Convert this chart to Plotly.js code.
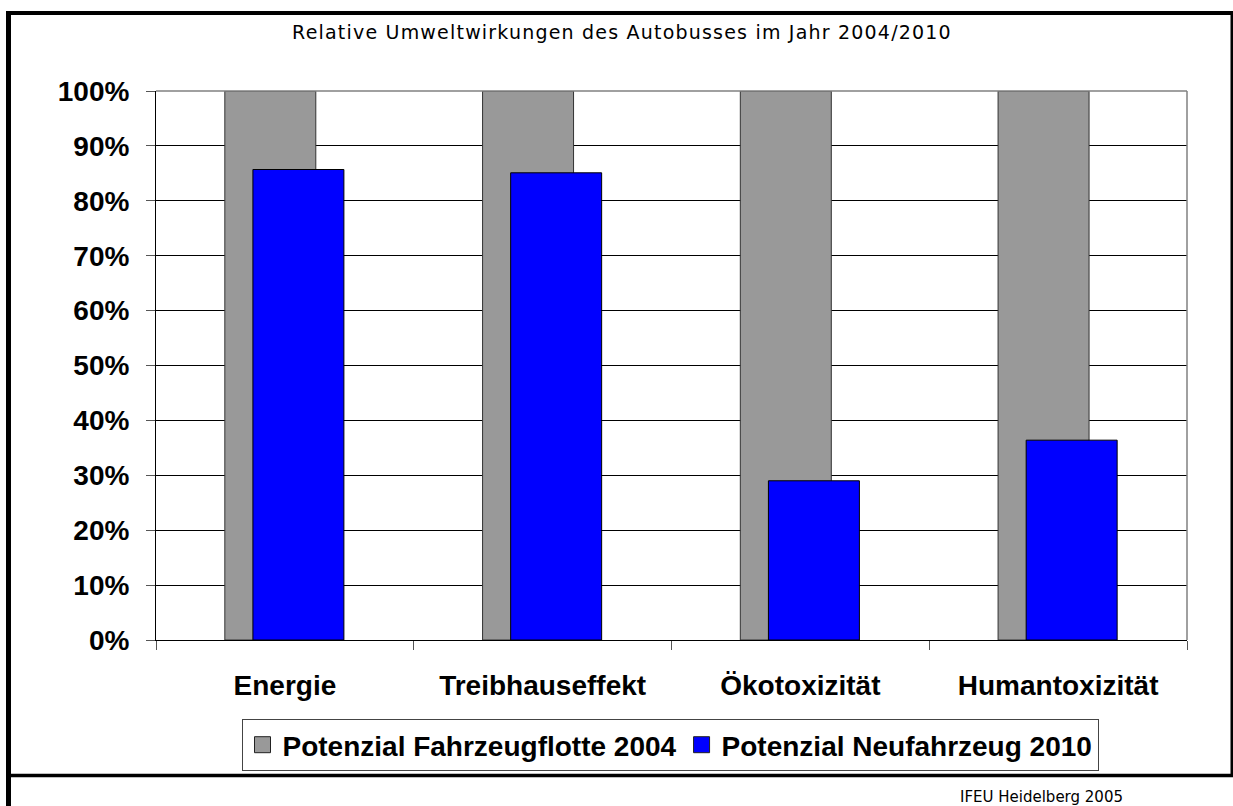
<!DOCTYPE html>
<html>
<head>
<meta charset="utf-8">
<script src="https://cdn.plot.ly/plotly-3.0.1.min.js"></script>
<style>
  html, body { margin: 0; padding: 0; background: white; }
  #chart { width: 1233px; height: 806px; }
  #chart .gtitle { letter-spacing: 1.2px; }
</style>
</head>
<body>
<div id="chart"></div>
<script>
// categories and values (share of 2004 fleet potential)
const categories = ['Energie', 'Treibhauseffekt', 'Ökotoxizität', 'Humantoxizität'];
const fleet2004 = [1.00, 1.00, 1.00, 1.00];
const newVehicle2010 = [0.857, 0.851, 0.290, 0.364];
const seriesNames = ['Potenzial Fahrzeugflotte 2004', 'Potenzial Neufahrzeug 2010'];
const seriesColors = ['#999999', '#0000ff'];

const W = 1233, H = 806;
const plotL = 156, plotR = 1187, plotT = 91, plotB = 640;
const px2x = px => (px - plotL) / (plotR - plotL);
const py2y = py => (plotB - py) / (plotB - plotT);

const boldFont = { family: '"Liberation Sans", Arial, sans-serif', size: 28, color: 'black', weight: 'bold' };

const traces = [
    {
        type: 'bar',
        name: seriesNames[0],
        x: categories,
        y: fleet2004,
        width: 0.353,
        offset: -0.233,
        marker: { color: seriesColors[0], line: { color: '#333333', width: 1 } },
        showlegend: false
    },
    {
        type: 'bar',
        name: seriesNames[1],
        x: categories,
        y: newVehicle2010,
        width: 0.353,
        offset: -0.124,
        marker: { color: seriesColors[1], line: { color: 'black', width: 1 } },
        showlegend: false
    }
];

// legend entries with square keys (nothing drawn in the plot)
seriesNames.forEach((name, i) => {
    traces.push({
        type: 'scatter',
        mode: 'markers',
        name: name,
        x: [categories[0]],
        y: [null],
        marker: { symbol: 'square', size: 18, color: seriesColors[i], line: { color: '#222222', width: 1 } },
        showlegend: true
    });
});

// frame lines around the whole picture
function line(x0, y0, x1, y1, color, width) {
    return {
        type: 'line', xref: 'paper', yref: 'paper',
        x0: px2x(x0), y0: py2y(y0), x1: px2x(x1), y1: py2y(y1),
        line: { color: color, width: width }, layer: 'above'
    };
}

const shapes = [
    // plot area top and right edges (gray)
    line(plotL, plotT, plotR, plotT, '#808080', 1.5),
    line(plotR, plotT, plotR, plotB, '#808080', 1.5),
    // outer frame
    line(6, 13, 1233, 13, 'black', 4),
    line(8.5, 11, 8.5, 806, 'black', 5),
    line(1232, 11, 1232, 776, 'black', 3),
    line(8, 775.5, 1233, 775.5, 'black', 3.5)
];

const layout = {
    width: W,
    height: H,
    margin: { l: plotL, r: W - plotR, t: plotT, b: H - plotB, pad: 0 },
    paper_bgcolor: 'white',
    plot_bgcolor: 'white',
    barmode: 'overlay',
    showlegend: true,
    title: {
        text: 'Relative Umweltwirkungen des Autobusses im Jahr 2004/2010',
        font: { family: '"DejaVu Sans", Tahoma, sans-serif', size: 19, color: 'black' },
        x: 622 / W, xanchor: 'center',
        y: 1 - 32 / H, yanchor: 'middle', yref: 'container'
    },
    xaxis: {
        type: 'category',
        tickfont: boldFont,
        showgrid: false,
        showline: true, linecolor: 'black', linewidth: 1,
        ticks: 'outside', ticklen: 9, tickwidth: 1, tickcolor: '#555555',
        tickson: 'boundaries',
        ticklabelstandoff: 20,
        fixedrange: true
    },
    yaxis: {
        range: [0, 1],
        dtick: 0.1,
        tickformat: '.0%',
        tickfont: boldFont,
        showgrid: true, gridcolor: 'black', gridwidth: 1,
        zeroline: false,
        showline: true, linecolor: 'black', linewidth: 1,
        ticks: 'outside', ticklen: 9, tickwidth: 1, tickcolor: '#555555',
        ticklabelstandoff: 11,
        fixedrange: true
    },
    legend: {
        orientation: 'h',
        x: px2x(670), xanchor: 'center',
        y: py2y(719), yanchor: 'top',
        bordercolor: '#444444', borderwidth: 1,
        bgcolor: 'white',
        font: boldFont,
        itemwidth: 30,
        traceorder: 'normal'
    },
    shapes: shapes,
    annotations: [{
        xref: 'paper', yref: 'paper',
        x: px2x(1125), y: py2y(797),
        xanchor: 'right', yanchor: 'middle',
        text: 'IFEU Heidelberg 2005',
        showarrow: false,
        font: { family: '"DejaVu Sans", Tahoma, sans-serif', size: 15, color: 'black' }
    }]
};

Plotly.newPlot('chart', traces, layout, { displayModeBar: false, staticPlot: true });
</script>
</body>
</html>
